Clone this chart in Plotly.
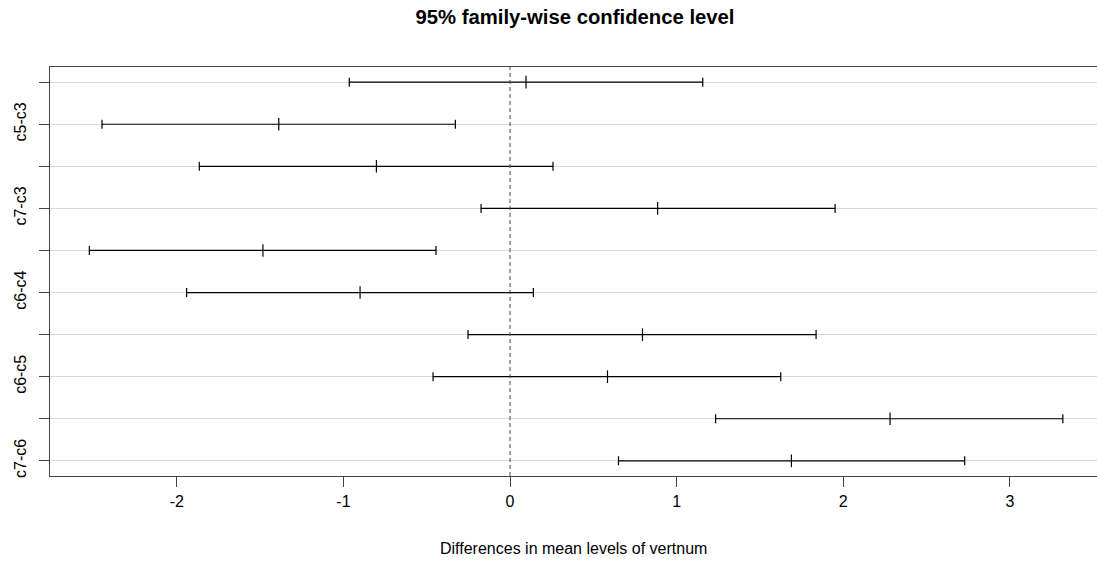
import plotly.graph_objects as go

comparisons = ["c4-c3", "c5-c3", "c6-c3", "c7-c3", "c5-c4",
               "c6-c4", "c7-c4", "c6-c5", "c7-c5", "c7-c6"]
diff = [0.096, -1.388, -0.802, 0.886, -1.483, -0.900, 0.795, 0.585, 2.281, 1.689]
lwr = [-0.965, -2.449, -1.865, -0.174, -2.525, -1.941, -0.252, -0.462, 1.234, 0.651]
upr = [1.157, -0.328, 0.258, 1.951, -0.444, 0.140, 1.837, 1.625, 3.318, 2.729]
shown_labels = ["", "c5-c3", "", "c7-c3", "", "c6-c4", "", "c6-c5", "", "c7-c6"]
x_ticks = [-2, -1, 0, 1, 2, 3]
x_tick_labels = ["-2", "-1", "0", "1", "2", "3"]

n = len(comparisons)
yvals = list(range(n, 0, -1))  # first comparison at top

font_family = "Liberation Sans, Arial, sans-serif"

fig = go.Figure()
fig.add_trace(go.Scatter(
    x=diff, y=yvals, mode="markers",
    marker=dict(symbol="line-ns", size=9, line=dict(width=1.2, color="black"), color="black"),
    error_x=dict(type="data", symmetric=False,
                 array=[u - d for u, d in zip(upr, diff)],
                 arrayminus=[d - l for d, l in zip(diff, lwr)],
                 color="black", thickness=1.2, width=4.5),
    text=comparisons, hoverinfo="text+x", showlegend=False,
))

fig.add_shape(type="line", x0=0, x1=0, y0=0, y1=1, xref="x", yref="paper",
              line=dict(color="#444444", width=1, dash="4px,3px"))

fig.add_annotation(text="Differences in mean levels of vertnum", x=0.5, xref="paper",
                   y=-(548 - 476) / 409, yref="paper", showarrow=False,
                   font=dict(size=16, color="black", family=font_family),
                   xanchor="center", yanchor="middle")

fig.update_layout(
    width=1097, height=563,
    margin=dict(l=50, r=0, t=67, b=87),
    paper_bgcolor="white", plot_bgcolor="white",
    font=dict(family=font_family, size=16, color="black"),
    title=dict(text="<b>95% family-wise confidence level</b>", x=0.5 * (413 + 737) / 1097,
               xanchor="center", y=1 - 17 / 563, yanchor="middle", yref="container",
               font=dict(size=20.3, color="black", family=font_family)),
    xaxis=dict(range=[-2.761, 3.523], tickvals=x_ticks, ticktext=x_tick_labels,
               ticks="outside", ticklen=10,
               tickcolor="#444", showline=True, linecolor="#444", linewidth=1, mirror=True,
               showgrid=False, zeroline=False, ticklabelstandoff=1,
               tickfont=dict(size=16, color="black")),
    yaxis=dict(range=[0.64, 10.36], tickvals=yvals, ticktext=shown_labels, tickangle=-90,
               ticks="outside", ticklen=10, tickcolor="#444", showline=True, linecolor="#444",
               linewidth=1, showgrid=True, gridcolor="#d9d9d9", gridwidth=1, zeroline=False,
               ticklabelstandoff=7, tickfont=dict(size=16, color="black")),
)

fig.write_html("out.html", config={"displayModeBar": False},
               post_script="document.body.style.margin='0';document.body.style.overflow='hidden';")
